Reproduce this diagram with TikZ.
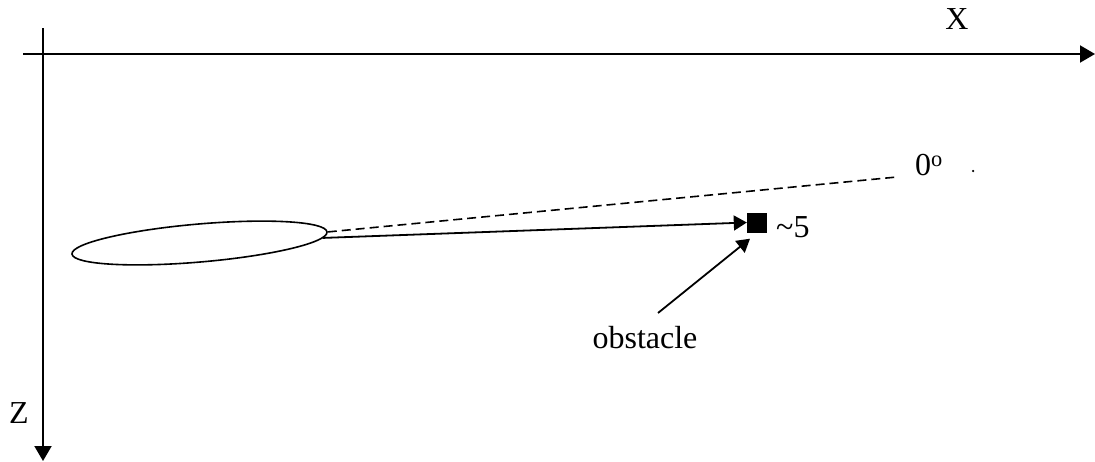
\documentclass[tikz,border=0pt]{standalone}
\usepackage{fontspec}
\setmainfont{Liberation Serif}
\usetikzlibrary{arrows.meta,shapes.geometric,calc}
\begin{document}
\begin{tikzpicture}[x=1pt,y=-1pt,
  axis/.style={line width=2pt,-{Triangle[length=15pt,width=17pt]}},
  conn/.style={line width=1.8pt,-{Triangle[length=13pt,width=15pt]}},
  lbl/.style={font=\fontsize{32}{38}\selectfont,inner sep=0pt},
  dashline/.style={line width=1.6pt,dash pattern=on 9pt off 5pt}]
\useasboundingbox (0,0) rectangle (1095,461);
% axes
\coordinate (xs) at (23,54);
\coordinate (xe) at (1095,54);
\coordinate (zs) at (43,28);
\coordinate (ze) at (43,461);
\draw[axis] (xs) -- (xe);
\draw[axis] (zs) -- (ze);
\node[lbl] (X) at (957,19) {X};
\node[lbl] (Z) at (19,413) {Z};
% ellipse
\node[ellipse,draw,line width=1.6pt,inner sep=0pt,minimum width=256pt,minimum height=38pt,rotate=4.93] (ell) at (199.5,243) {};
% obstacle
\node[fill=black,inner sep=0pt,minimum size=20pt] (obs) at (757,222.5) {};
\node[lbl,anchor=west] (five) at (776,227) {\textasciitilde 5};
% dashed 0 degree line
\coordinate (dend) at (897,177);
\draw[dashline] (ell.east) -- (dend);
\node[lbl] (zero) at (929,165) {0\textsuperscript{o}};
\node[circle,fill=black,inner sep=0pt,minimum size=2.5pt] (dot) at (973,171) {};
% main arrow
\draw[conn] ($(ell.east)+(-5,6)$) -- (obs.west);
% obstacle label and arrow
\node[lbl,anchor=base] (olbl) at (645,348) {obstacle};
\coordinate (ostart) at (658,313);
\draw[conn] (ostart) -- ($(obs.south)+(-7,6)$);
\end{tikzpicture}
\end{document}
